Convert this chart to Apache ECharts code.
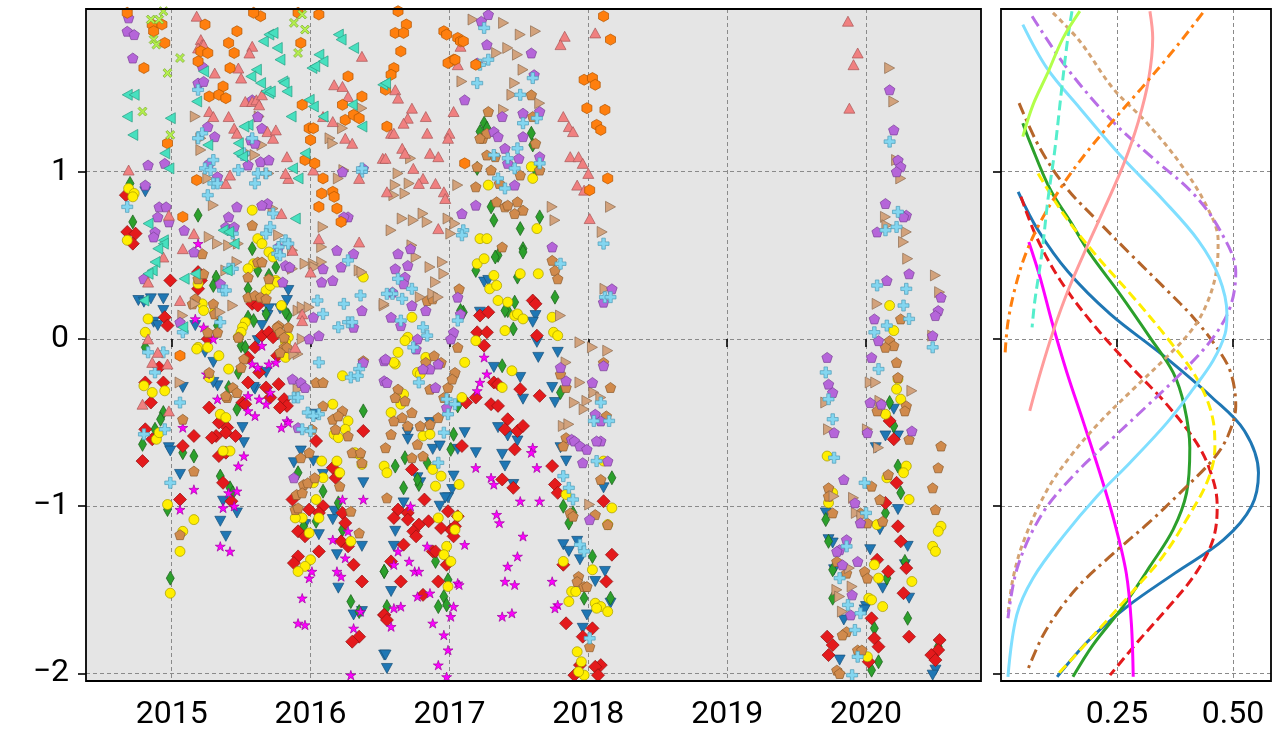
<!DOCTYPE html>
<html><head><meta charset="utf-8">
<script src="https://cdn.jsdelivr.net/npm/echarts@6/dist/echarts.min.js"></script>
<style>html,body{margin:0;padding:0;background:#fff;}#c{width:1274px;height:735px;}</style>
</head><body><div id="c"></div>
<script>
// ---------------- tick values ----------------
const yearTicks = [2015, 2016, 2017, 2018, 2019, 2020];
const valueTicks = [-2, -1, 0, 1];
const densityTicks = [0.25, 0.5];

// ---------------- scatter series: [year, value] ----------------
const blueTri = [[2014.81,0.88],[2014.76,0.23],[2014.85,0.24],[2014.94,0.24],[2014.94,0.17],[2014.80,0.22],[2014.87,0.10],[2014.90,0.08],[2015.17,0.08],[2015.24,-0.08],[2015.30,-0.14],[2015.08,-0.29],[2015.33,-0.28],[2015.30,-0.26],[2015.60,-0.30],[2015.51,-0.53],[2015.52,-0.62],[2015.84,0.29],[2015.83,0.23],[2015.70,0.18],[2015.69,0.14],[2015.78,0.18],[2015.65,0.08],[2015.62,-0.01],[2015.68,-0.20],[2015.59,-0.29],[2016.04,-0.45],[2014.98,-0.65],[2014.99,-0.67],[2015.06,-0.81],[2015.35,-1.09],[2015.39,-1.18],[2015.47,-1.04],[2015.37,-0.97],[2015.88,-0.74],[2016.02,-0.73],[2015.93,-0.67],[2016.09,-0.81],[2016.17,-1.03],[2016.16,-1.08],[2016.19,-1.29],[2016.20,-1.49],[2015.96,-1.11],[2016.06,-1.17],[2016.38,-0.86],[2016.37,-1.24],[2016.31,-1.65],[2016.37,-1.63],[2016.53,-1.89],[2016.55,-1.97],[2017.25,0.34],[2017.28,0.35],[2017.22,0.16],[2017.62,0.14],[2017.60,0.10],[2017.63,-0.02],[2017.64,-0.11],[2017.78,-0.08],[2017.32,-0.17],[2017.51,-0.23],[2017.53,-0.36],[2017.74,-0.29],[2017.76,-0.38],[2016.86,-0.50],[2017.11,-0.56],[2016.70,-0.56],[2016.70,-0.60],[2017.35,-0.53],[2017.42,-0.58],[2017.49,-0.61],[2016.88,-0.66],[2016.93,-0.64],[2017.06,-0.66],[2017.19,-0.68],[2017.38,-0.69],[2017.40,-0.76],[2017.46,-0.87],[2017.80,-0.65],[2017.84,-0.73],[2016.77,-0.83],[2016.79,-0.86],[2017.03,-0.82],[2017.02,-0.90],[2016.99,-0.95],[2016.67,-0.98],[2016.97,-0.95],[2016.93,-1.00],[2016.61,-1.15],[2016.60,-1.24],[2016.58,-1.51],[2016.54,-1.89],[2017.82,-1.23],[2017.92,-1.21],[2017.86,-1.27],[2017.94,-1.32],[2018.05,-1.45],[2018.12,-1.39],[2018.16,-1.58],[2017.99,-1.65],[2017.96,-1.73],[2018.11,-0.89],[2020.20,-0.42],[2020.14,-0.58],[2020.23,-0.58],[2020.07,-0.65],[2019.71,-1.04],[2020.23,-1.02],[2020.10,-1.14],[2019.73,-1.20],[2019.76,-1.22],[2020.03,-1.26],[2020.30,-1.24],[2019.77,-1.38],[2020.28,-1.35],[2020.12,-1.49],[2020.31,-1.55],[2019.84,-1.68],[2020.00,-1.60],[2019.99,-1.62],[2019.81,-1.92],[2020.50,-1.98],[2020.48,-2.01]];

const greenThin = [[2014.70,0.93],[2014.72,0.70],[2015.19,0.74],[2015.58,0.54],[2015.62,0.41],[2015.70,0.38],[2015.75,0.43],[2015.30,0.32],[2015.32,0.37],[2015.55,0.30],[2015.84,0.14],[2015.82,0.16],[2015.55,0.13],[2015.59,0.11],[2015.68,0.15],[2015.33,0.08],[2015.50,-0.04],[2015.53,-0.05],[2014.81,-0.05],[2015.48,-0.20],[2015.41,-0.29],[2016.38,-0.43],[2014.94,-0.44],[2014.92,-0.48],[2014.88,-0.54],[2014.90,-0.58],[2014.79,-0.63],[2015.47,-0.42],[2015.16,-0.70],[2015.08,-0.68],[2015.35,-0.82],[2015.42,-0.89],[2015.44,-0.92],[2014.97,-1.02],[2014.99,-1.43],[2015.91,-0.80],[2016.09,-0.91],[2016.04,-1.09],[2015.95,-1.12],[2016.23,-1.14],[2016.29,-1.57],[2016.35,-1.63],[2016.20,-0.98],[2016.53,-1.39],[2017.25,1.29],[2017.27,1.26],[2017.22,1.24],[2017.59,1.23],[2017.60,1.16],[2017.20,1.02],[2017.30,0.79],[2017.32,0.71],[2017.51,0.66],[2017.65,0.73],[2017.53,0.54],[2017.62,1.01],[2017.35,0.50],[2017.33,0.49],[2017.19,0.41],[2017.53,0.52],[2017.49,0.37],[2017.47,0.22],[2017.42,0.17],[2017.40,0.17],[2017.10,0.16],[2017.08,0.17],[2017.76,0.25],[2017.46,0.06],[2017.38,-0.16],[2017.80,-0.32],[2017.03,-0.57],[2017.01,-0.66],[2017.06,-0.40],[2016.61,-0.76],[2016.68,-0.71],[2016.78,-0.87],[2016.77,-0.84],[2016.84,-0.74],[2016.67,-0.89],[2016.53,-1.39],[2016.90,-1.33],[2016.55,-1.60],[2016.92,-1.60],[2016.96,-1.54],[2016.98,-1.59],[2016.99,-1.44],[2017.82,-1.00],[2017.88,-1.06],[2017.86,-1.10],[2017.89,-1.04],[2018.03,-1.30],[2018.17,-0.83],[2017.97,-1.55],[2018.16,-1.55],[2020.17,-0.38],[2020.20,-0.52],[2020.23,-0.76],[2020.25,-0.92],[2020.14,-1.04],[2019.71,-1.08],[2019.73,-1.21],[2019.76,-1.38],[2019.76,-1.55],[2020.15,-1.43],[2020.28,-1.33],[2020.30,-1.67],[2020.06,-1.73],[2020.09,-1.93],[2020.04,-1.98],[2020.52,-1.84]];

const redDiamond = [[2014.67,0.86],[2014.68,0.64],[2014.74,0.63],[2014.72,0.57],[2014.99,0.35],[2015.19,0.40],[2015.19,0.30],[2015.21,0.35],[2014.95,0.13],[2014.97,0.08],[2015.26,0.00],[2014.91,-0.17],[2014.81,-0.26],[2014.94,-0.26],[2014.85,-0.38],[2015.58,0.21],[2015.62,0.20],[2015.65,0.02],[2015.70,0.04],[2015.73,0.01],[2015.60,-0.05],[2015.55,-0.11],[2015.76,-0.10],[2015.63,-0.20],[2015.55,-0.26],[2015.68,-0.29],[2015.77,-0.27],[2015.71,-0.35],[2015.81,-0.36],[2015.83,-0.40],[2015.78,-0.41],[2015.51,-0.38],[2015.53,-0.39],[2015.27,-0.41],[2015.34,-0.50],[2015.32,-0.58],[2015.29,-0.59],[2015.40,-0.53],[2015.46,-0.58],[2015.39,-0.56],[2015.16,-0.58],[2015.08,-0.64],[2016.38,-0.55],[2016.04,-0.61],[2014.81,-0.54],[2014.86,-0.60],[2014.79,-0.73],[2015.06,-0.96],[2015.37,-0.86],[2015.43,-0.97],[2015.34,-0.70],[2015.39,-0.68],[2015.87,-0.96],[2015.99,-1.02],[2015.91,-1.15],[2015.96,-1.18],[2016.06,-1.27],[2015.91,-1.30],[2015.88,-1.34],[2016.16,-0.77],[2016.18,-0.83],[2016.09,-1.00],[2016.06,-1.04],[2016.23,-1.04],[2016.25,-1.10],[2016.22,-1.21],[2016.27,-1.24],[2016.31,-1.35],[2016.37,-1.45],[2016.35,-1.78],[2016.30,-1.81],[2016.53,-1.65],[2017.20,0.04],[2017.27,0.04],[2017.25,-0.04],[2017.22,0.14],[2017.28,0.16],[2017.60,0.23],[2017.62,0.21],[2017.63,0.02],[2017.32,-0.26],[2017.35,-0.27],[2017.51,-0.30],[2017.65,-0.34],[2017.30,-0.39],[2017.35,-0.40],[2017.19,-0.35],[2017.12,-0.38],[2017.42,-0.48],[2017.40,-0.54],[2017.49,-0.55],[2017.53,-0.52],[2017.47,-0.66],[2017.09,-0.64],[2017.38,-0.84],[2017.46,-0.89],[2017.74,-0.76],[2017.76,-0.87],[2017.78,-0.92],[2018.11,-0.97],[2016.73,-0.78],[2016.82,-0.96],[2016.63,-1.02],[2016.70,-1.04],[2016.60,-1.07],[2016.70,-1.08],[2016.99,-1.03],[2017.06,-1.06],[2017.01,-1.14],[2017.04,-1.12],[2017.03,-1.18],[2016.94,-1.13],[2016.85,-1.09],[2016.78,-1.11],[2016.74,-1.15],[2016.76,-1.18],[2016.67,-1.23],[2016.88,-1.27],[2016.90,-1.27],[2016.58,-1.33],[2016.98,-1.35],[2016.65,-1.45],[2016.92,-1.45],[2016.81,-1.53],[2016.53,-1.65],[2016.55,-1.68],[2017.82,-1.35],[2018.17,-1.29],[2018.13,-1.45],[2017.84,-1.70],[2017.96,-1.78],[2018.03,-1.73],[2017.94,-1.95],[2017.90,-2.01],[2018.09,-1.95],[2018.05,-1.96],[2018.07,-2.01],[2020.17,-0.49],[2020.20,-0.60],[2020.22,-0.86],[2020.14,-0.98],[2020.23,-1.12],[2020.25,-1.21],[2020.29,-1.37],[2020.08,-1.32],[2020.16,-1.39],[2020.27,-1.52],[2020.04,-1.67],[2020.06,-1.79],[2020.09,-1.84],[2020.02,-1.93],[2019.72,-1.78],[2019.76,-1.83],[2019.73,-1.89],[2020.31,-1.78],[2020.53,-1.80],[2020.52,-1.86],[2020.47,-1.89],[2020.50,-1.92]];

const yellowCircle = [[2014.69,0.90],[2014.73,0.87],[2014.72,0.85],[2014.68,0.59],[2014.83,0.12],[2014.81,0.04],[2015.19,-0.05],[2015.26,-0.05],[2015.34,-0.10],[2015.19,0.33],[2015.22,0.21],[2015.23,0.17],[2015.31,0.16],[2015.58,0.77],[2015.62,0.60],[2015.65,0.57],[2015.70,0.52],[2015.73,0.49],[2015.59,0.45],[2015.55,0.42],[2015.68,0.29],[2015.71,0.32],[2015.75,0.35],[2015.76,0.34],[2015.79,0.20],[2015.53,0.10],[2015.51,0.07],[2015.50,0.04],[2015.48,0.01],[2015.84,0.01],[2015.82,-0.02],[2015.82,-0.11],[2015.41,-0.18],[2015.27,-0.23],[2015.18,-0.06],[2016.38,0.37],[2016.23,-0.22],[2016.16,-0.39],[2016.27,-0.49],[2016.25,-0.54],[2016.17,-0.57],[2016.20,-0.59],[2015.35,-0.45],[2015.39,-0.47],[2014.80,-0.28],[2014.86,-0.32],[2014.89,-0.60],[2014.91,-0.56],[2014.95,-0.31],[2014.97,-0.99],[2015.16,-1.08],[2015.08,-1.15],[2015.06,-1.27],[2014.99,-1.52],[2015.42,-0.67],[2015.37,-0.67],[2016.08,-0.73],[2016.19,-0.73],[2016.21,-0.80],[2016.09,-0.83],[2016.37,-0.75],[2016.35,-0.69],[2016.32,-0.68],[2016.02,-0.86],[2016.04,-0.96],[2016.06,-1.07],[2015.94,-1.07],[2015.89,-1.07],[2015.99,-1.16],[2016.29,-1.21],[2016.00,-1.32],[2015.96,-1.36],[2015.91,-1.39],[2017.59,1.03],[2017.60,0.96],[2017.28,0.92],[2017.63,0.66],[2017.22,0.60],[2017.27,0.60],[2017.20,0.45],[2017.25,0.48],[2017.32,0.38],[2017.29,0.30],[2017.34,0.32],[2017.64,0.39],[2017.51,0.39],[2017.35,0.23],[2017.42,0.22],[2017.47,0.14],[2017.49,0.15],[2017.53,0.12],[2017.74,0.13],[2017.40,0.05],[2017.19,-0.01],[2017.75,0.04],[2017.78,0.02],[2017.45,-0.19],[2017.38,-0.29],[2016.73,0.13],[2016.63,-0.08],[2016.70,0.01],[2016.68,-0.01],[2016.83,-0.11],[2016.77,-0.20],[2016.79,-0.21],[2016.61,-0.15],[2016.60,-0.14],[2016.67,-0.33],[2016.65,-0.39],[2016.58,-0.44],[2017.11,-0.14],[2017.09,-0.35],[2016.53,-0.76],[2016.55,-0.80],[2016.81,-0.58],[2016.86,-0.57],[2016.88,-0.78],[2016.94,-0.82],[2016.90,-0.88],[2017.07,-0.87],[2016.92,-1.07],[2017.06,-1.06],[2017.04,-1.14],[2016.98,-1.24],[2016.96,-1.29],[2017.01,-1.33],[2016.99,-1.48],[2017.84,-0.93],[2017.82,-1.33],[2017.86,-1.57],[2017.88,-1.51],[2017.91,-1.51],[2018.03,-1.38],[2018.11,-0.73],[2018.17,-1.01],[2018.14,-1.11],[2018.05,-1.58],[2018.09,-1.60],[2018.14,-1.63],[2018.06,-1.61],[2017.92,-1.87],[2017.95,-1.93],[2017.97,-2.01],[2017.93,-1.99],[2020.17,0.20],[2020.20,0.05],[2020.23,-0.24],[2020.22,-0.30],[2020.25,-0.36],[2020.14,-0.45],[2020.29,-0.76],[2020.27,-0.80],[2020.31,-0.96],[2020.15,-0.83],[2019.72,-0.70],[2019.73,-0.98],[2019.76,-0.92],[2020.08,-1.11],[2020.06,-1.35],[2020.09,-1.43],[2020.33,-1.45],[2020.02,-1.55],[2020.04,-1.56],[2020.12,-1.60],[2020.54,-1.12],[2020.52,-1.15],[2020.48,-1.24],[2020.50,-1.27],[2020.01,-1.90]];

const magentaStar = [[2015.19,0.57],[2015.17,0.12],[2015.23,0.07],[2015.30,0.00],[2015.25,-0.21],[2015.65,-0.04],[2015.58,-0.15],[2015.62,-0.17],[2015.70,-0.15],[2015.75,-0.14],[2015.33,-0.36],[2015.55,-0.34],[2015.63,-0.36],[2015.68,-0.39],[2015.71,-0.32],[2015.55,-0.43],[2015.60,-0.46],[2015.79,-0.53],[2015.83,-0.49],[2015.84,-0.50],[2015.08,-0.53],[2015.16,-0.90],[2015.06,-1.02],[2015.48,-0.76],[2015.52,-0.70],[2015.41,-0.92],[2015.47,-0.91],[2015.37,-1.01],[2015.45,-1.00],[2015.35,-1.24],[2015.42,-1.27],[2016.23,-0.96],[2016.38,-0.96],[2016.27,-1.15],[2016.16,-1.20],[2016.25,-1.31],[2016.19,-1.39],[2016.22,-1.42],[2015.94,-1.55],[2015.91,-1.70],[2015.96,-1.71],[2016.36,-1.63],[2016.31,-1.73],[2015.99,-1.43],[2016.01,-1.39],[2016.29,-2.01],[2017.25,-0.11],[2017.27,-0.21],[2017.22,-0.26],[2017.20,-0.31],[2017.19,-0.77],[2017.30,-0.83],[2017.32,-0.87],[2017.60,-0.65],[2017.59,-0.68],[2017.63,-0.77],[2017.51,-0.97],[2017.65,-0.97],[2017.34,-1.05],[2017.36,-1.10],[2017.53,-1.18],[2017.49,-1.30],[2017.42,-1.36],[2017.40,-1.45],[2017.47,-1.47],[2017.74,-1.45],[2017.78,-1.59],[2017.76,-1.61],[2017.38,-1.66],[2017.45,-1.64],[2017.11,-1.23],[2017.06,-1.46],[2017.07,-1.47],[2017.03,-1.60],[2017.01,-1.66],[2016.96,-1.77],[2016.99,-1.86],[2016.92,-1.95],[2016.98,-2.02],[2016.88,-1.70],[2016.86,-1.52],[2016.77,-1.54],[2016.75,-1.39],[2016.78,-1.39],[2016.84,-1.24],[2016.63,-1.27],[2016.60,-1.35],[2016.65,-1.60],[2016.60,-1.61],[2016.58,-1.72],[2016.71,-1.33],[2016.72,-1.00]];

const peruPentagon = [[2015.22,0.51],[2015.19,0.36],[2015.23,0.39],[2015.17,0.24],[2015.15,0.21],[2015.30,0.21],[2015.31,0.15],[2015.27,-0.20],[2015.33,0.04],[2015.26,0.04],[2015.58,0.68],[2015.62,0.46],[2015.65,0.46],[2015.55,0.37],[2015.70,0.36],[2015.55,0.25],[2015.60,0.26],[2015.64,0.25],[2015.68,0.24],[2015.77,0.08],[2015.76,0.07],[2015.84,0.07],[2015.78,0.04],[2015.81,0.01],[2015.81,-0.05],[2015.83,-0.05],[2015.78,-0.08],[2015.48,0.01],[2015.52,-0.12],[2015.50,-0.17],[2015.44,-0.29],[2015.47,-0.32],[2015.40,-0.35],[2015.39,-0.34],[2015.08,-0.48],[2016.04,-0.26],[2016.09,-0.26],[2016.09,-0.40],[2016.16,-0.48],[2016.23,-0.43],[2016.20,-0.46],[2016.27,-0.58],[2016.18,-0.54],[2016.01,-0.54],[2016.38,-0.13],[2015.16,-0.79],[2015.06,-1.17],[2015.93,-0.71],[2015.99,-0.68],[2015.95,-0.87],[2015.90,-0.93],[2015.89,-1.02],[2015.94,-0.92],[2015.98,-0.86],[2016.03,-0.83],[2015.91,-1.01],[2016.29,-1.03],[2016.35,-1.16],[2016.30,-0.68],[2016.36,-0.68],[2016.37,-0.74],[2016.21,-0.88],[2017.28,1.36],[2017.24,1.20],[2017.27,1.23],[2017.22,1.20],[2017.62,1.17],[2017.27,1.10],[2017.33,1.09],[2017.20,1.03],[2017.30,1.01],[2017.36,0.93],[2017.51,0.98],[2017.65,1.01],[2017.19,0.91],[2017.34,0.82],[2017.40,0.79],[2017.42,0.80],[2017.49,0.82],[2017.53,0.77],[2017.47,0.75],[2017.38,0.55],[2017.60,1.33],[2017.59,1.46],[2017.07,0.30],[2017.06,-0.05],[2017.04,-0.20],[2016.99,-0.29],[2017.02,-0.24],[2016.96,-0.35],[2016.92,-0.47],[2016.86,-0.51],[2016.81,-0.70],[2016.77,-0.63],[2016.73,-0.44],[2016.70,-0.52],[2016.84,0.23],[2016.88,0.24],[2016.83,-0.14],[2016.94,-0.14],[2016.89,-0.10],[2016.86,-0.30],[2016.79,-0.52],[2016.66,-0.47],[2016.63,-0.30],[2016.61,-0.35],[2016.68,-0.37],[2016.60,-0.49],[2016.54,-0.65],[2016.55,-0.95],[2016.58,-0.57],[2016.73,-0.71],[2017.74,0.47],[2017.76,0.41],[2017.78,0.36],[2017.80,-0.21],[2017.84,-0.29],[2017.84,-0.59],[2017.82,-0.64],[2017.87,-1.04],[2017.89,-1.06],[2017.93,-1.42],[2017.92,-1.45],[2017.97,-1.48],[2017.99,-1.48],[2018.01,-1.84],[2018.11,-0.14],[2018.16,-0.29],[2018.13,-0.46],[2018.09,-0.84],[2018.05,-1.05],[2018.14,-1.11],[2020.25,0.12],[2020.17,-0.01],[2020.20,-0.04],[2020.14,-0.05],[2020.22,-0.14],[2020.23,-0.23],[2020.29,-0.40],[2020.28,-0.43],[2020.08,-0.43],[2020.12,-1.09],[2020.01,-1.10],[2020.31,-0.60],[2020.16,-0.81],[2020.04,-0.88],[2020.54,-0.64],[2020.52,-0.77],[2020.48,-0.89],[2020.50,-1.02],[2019.73,-0.89],[2019.73,-0.94],[2019.76,-1.04],[2020.10,-0.96],[2019.96,-1.04],[2019.79,-1.33],[2019.86,-1.40],[2019.99,-1.39],[2020.01,-1.43],[2019.86,-1.75],[2019.83,-1.77],[2019.94,-1.86],[2019.97,-1.86],[2019.79,-1.98],[2019.81,-2.00]];

const tanRight = [[2015.17,1.33],[2015.21,1.20],[2015.21,1.13],[2015.26,0.96],[2015.63,1.33],[2015.65,1.16],[2015.55,1.11],[2015.60,1.10],[2015.70,0.99],[2016.14,1.20],[2016.16,1.17],[2016.23,1.26],[2016.24,1.01],[2016.37,1.38],[2016.20,0.96],[2015.30,0.80],[2015.27,0.61],[2015.33,0.57],[2015.41,0.56],[2015.48,0.57],[2015.39,0.41],[2015.47,0.46],[2015.44,0.20],[2015.08,0.14],[2015.06,-0.26],[2015.17,0.21],[2015.35,0.16],[2015.73,0.78],[2015.77,0.62],[2015.87,0.53],[2015.87,0.42],[2015.96,0.45],[2015.91,0.17],[2015.94,0.19],[2015.99,0.19],[2016.09,0.67],[2016.08,0.55],[2016.08,0.46],[2016.02,0.45],[2016.03,0.43],[2016.27,0.72],[2016.35,0.41],[2016.37,0.40],[2016.53,0.20],[2015.91,-0.30],[2015.91,-0.09],[2015.94,0.00],[2015.88,-0.09],[2017.17,1.91],[2017.39,1.89],[2017.51,1.82],[2017.62,1.84],[2017.34,1.71],[2017.42,1.74],[2017.49,1.70],[2017.53,1.61],[2017.47,1.53],[2017.45,1.46],[2017.65,1.41],[2017.39,1.37],[2016.72,1.08],[2016.63,0.99],[2017.09,1.54],[2016.61,0.92],[2016.60,0.86],[2016.71,0.93],[2016.68,0.87],[2016.81,0.75],[2016.74,0.71],[2016.84,0.70],[2016.66,0.72],[2016.58,0.65],[2016.99,0.72],[2017.01,0.63],[2017.04,0.69],[2017.74,0.79],[2017.76,0.71],[2018.16,0.79],[2018.10,0.64],[2017.06,0.92],[2016.73,0.56],[2016.76,0.49],[2016.95,0.46],[2016.96,0.39],[2016.90,0.34],[2016.86,0.43],[2016.79,0.25],[2016.88,0.27],[2016.92,0.25],[2016.53,0.21],[2017.80,0.14],[2017.94,-0.02],[2018.03,-0.05],[2018.14,-0.07],[2017.84,-0.14],[2017.94,-0.26],[2017.99,-0.37],[2017.90,-0.38],[2017.97,-0.42],[2018.04,-0.32],[2018.09,-0.35],[2017.82,-0.52],[2017.86,-0.51],[2018.01,-0.99],[2018.12,0.30],[2020.17,1.62],[2020.20,1.42],[2020.22,1.07],[2020.25,0.96],[2020.14,0.73],[2020.15,0.68],[2020.29,0.64],[2020.27,0.58],[2020.30,0.48],[2020.50,0.38],[2020.53,0.28],[2020.08,0.21],[2020.48,0.02],[2019.71,-0.38],[2019.73,-0.54],[2020.01,-0.54],[2020.03,-0.26],[2020.07,-0.26],[2020.33,-0.31],[2020.10,-0.37],[2020.09,-0.65],[2019.91,-0.95],[2019.77,-0.94],[2019.93,-1.04],[2019.88,-1.37],[2019.90,-1.48],[2019.79,-1.50],[2019.81,-1.54],[2019.83,-1.63],[2019.97,-1.06]];

const purplePentagon = [[2014.69,1.92],[2014.68,1.84],[2014.73,1.82],[2014.72,1.68],[2015.22,1.63],[2015.19,1.53],[2015.23,1.54],[2015.26,1.27],[2015.31,1.21],[2015.62,1.33],[2015.58,1.43],[2015.65,1.26],[2015.57,1.19],[2015.60,1.17],[2015.64,1.06],[2015.70,1.07],[2015.55,1.04],[2015.27,1.05],[2014.83,1.04],[2014.95,1.05],[2014.81,0.92],[2016.38,1.02],[2016.23,1.00],[2015.33,0.97],[2014.91,0.79],[2014.96,0.79],[2014.90,0.73],[2014.88,0.64],[2014.87,0.61],[2014.98,0.70],[2015.09,0.65],[2015.16,0.52],[2014.80,0.36],[2015.06,0.10],[2015.35,0.33],[2015.41,0.73],[2015.39,0.67],[2015.45,0.67],[2015.47,0.79],[2015.82,0.44],[2015.85,0.43],[2015.77,0.55],[2015.80,0.34],[2015.69,0.81],[2015.65,0.80],[2016.09,0.42],[2016.08,0.34],[2016.16,0.35],[2016.22,0.43],[2016.27,0.73],[2016.24,0.73],[2016.19,0.53],[2016.31,0.51],[2016.31,0.07],[2016.37,0.17],[2015.87,-0.24],[2015.93,-0.26],[2015.96,-0.29],[2015.91,-0.53],[2016.02,0.13],[2016.06,0.02],[2015.99,0.00],[2016.38,-0.14],[2016.53,-0.13],[2016.53,-0.25],[2015.88,-0.83],[2017.28,1.94],[2017.23,1.90],[2017.27,1.76],[2017.20,1.65],[2017.59,1.71],[2017.61,1.58],[2017.11,1.43],[2017.65,1.36],[2017.53,1.35],[2017.38,1.33],[2017.32,1.24],[2017.35,1.21],[2017.53,1.21],[2017.40,1.14],[2017.50,1.08],[2017.42,1.05],[2017.65,1.09],[2017.47,0.92],[2017.19,0.80],[2017.09,0.75],[2017.74,0.55],[2016.72,0.54],[2016.63,0.51],[2016.61,0.42],[2016.70,0.44],[2016.68,0.37],[2016.67,0.33],[2016.59,0.28],[2016.73,0.20],[2016.83,0.17],[2016.58,0.13],[2016.65,0.08],[2016.54,-0.12],[2016.55,-0.26],[2016.86,-0.18],[2016.81,-0.18],[2016.92,-0.15],[2016.77,0.00],[2016.76,-0.06],[2017.06,0.25],[2017.03,0.04],[2017.01,0.00],[2017.08,0.15],[2016.90,-0.29],[2016.98,-0.41],[2017.80,-0.17],[2017.84,-0.25],[2017.88,-0.60],[2017.90,-0.61],[2017.94,-0.64],[2017.99,-0.66],[2017.96,-0.74],[2018.09,-0.61],[2018.14,-0.73],[2018.06,-0.61],[2018.01,-1.08],[2018.05,-0.45],[2018.09,-0.49],[2018.11,-0.16],[2018.17,0.30],[2018.11,0.22],[2018.03,-0.26],[2020.17,1.49],[2020.20,1.25],[2020.23,1.07],[2020.25,1.03],[2020.22,1.00],[2020.14,0.81],[2020.29,0.74],[2020.27,0.73],[2020.08,0.64],[2020.15,0.35],[2020.31,0.39],[2020.54,0.25],[2020.52,0.17],[2020.50,0.14],[2020.06,0.12],[2020.09,-0.01],[2020.48,0.02],[2019.72,-0.11],[2020.04,-0.11],[2019.73,-0.27],[2019.76,-0.32],[2019.77,-0.56],[2020.03,-0.38],[2020.11,-0.39],[2020.01,-0.56],[2020.33,-0.55],[2019.84,-0.84],[2019.92,-0.98],[2019.96,-1.10],[2019.86,-1.20],[2019.81,-1.26],[2019.79,-1.27],[2019.94,-1.33],[2019.83,-1.35],[2019.90,-1.53],[2019.89,-1.65]];

const lightBluePlus = [[2015.19,1.49],[2015.22,1.23],[2015.19,1.20],[2015.30,1.07],[2015.24,1.02],[2015.28,1.01],[2015.51,1.10],[2015.52,1.11],[2015.58,1.20],[2015.48,1.01],[2015.62,0.99],[2015.60,0.93],[2015.68,0.99],[2015.30,0.93],[2015.33,0.93],[2015.26,0.86],[2016.37,1.00],[2016.37,1.02],[2014.68,0.79],[2014.83,-0.08],[2014.94,-0.08],[2014.88,-0.20],[2014.95,-0.54],[2014.80,-0.57],[2015.06,-0.38],[2015.08,0.04],[2015.37,0.29],[2015.44,0.63],[2015.35,0.10],[2015.39,0.29],[2015.68,0.63],[2015.71,0.67],[2015.73,0.75],[2015.77,0.55],[2015.82,0.59],[2015.84,0.57],[2015.76,0.51],[2015.41,0.42],[2015.44,0.42],[2015.78,0.50],[2016.05,0.23],[2016.09,0.15],[2016.20,0.07],[2016.27,0.10],[2016.24,0.21],[2016.27,0.47],[2016.36,0.26],[2016.30,0.10],[2016.35,-0.18],[2016.29,-0.23],[2016.34,-0.22],[2016.06,-0.14],[2016.06,-0.45],[2015.88,-0.35],[2015.91,-0.35],[2015.98,-0.44],[2016.02,-0.46],[2015.94,-0.54],[2016.00,-0.55],[2014.99,-0.86],[2017.25,1.86],[2017.28,1.67],[2017.20,1.53],[2017.51,1.46],[2017.60,1.56],[2017.53,1.29],[2017.49,1.14],[2017.42,1.08],[2017.47,1.02],[2017.35,0.96],[2017.40,0.90],[2017.65,1.05],[2017.63,1.32],[2017.10,0.65],[2017.09,0.62],[2018.11,0.57],[2017.32,1.10],[2017.22,1.64],[2016.63,0.36],[2016.73,0.30],[2016.66,0.24],[2016.59,0.27],[2016.55,0.27],[2016.65,0.11],[2016.74,-0.05],[2016.78,-0.26],[2016.81,0.07],[2016.84,0.02],[2016.98,-0.36],[2016.99,-0.45],[2016.96,-0.56],[2016.92,-0.74],[2017.04,-0.39],[2017.06,0.11],[2017.82,-0.82],[2017.86,-0.89],[2017.89,-0.96],[2017.94,-1.23],[2017.97,-1.27],[2018.01,-1.79],[2018.12,0.25],[2018.16,0.25],[2018.09,-0.38],[2018.04,-0.49],[2018.15,-0.49],[2018.06,-0.73],[2017.80,0.45],[2020.17,1.18],[2020.23,0.76],[2020.22,0.67],[2020.14,0.65],[2020.08,0.32],[2020.29,0.30],[2020.27,0.20],[2020.31,0.12],[2020.15,0.08],[2020.06,0.04],[2020.48,-0.05],[2019.71,-0.20],[2019.73,-0.36],[2019.76,-0.48],[2019.77,-0.71],[2020.09,-0.18],[2020.00,-1.04],[2019.99,-0.86],[2019.86,-1.24],[2019.81,-1.43],[2019.87,-1.59],[2019.96,-1.64],[2019.92,-1.74],[2019.94,-1.90],[2019.90,-2.01]];

const pinkUp = [[2015.18,1.93],[2015.21,1.79],[2015.22,1.76],[2015.19,1.74],[2015.23,1.76],[2015.31,1.59],[2015.48,1.62],[2015.50,1.56],[2015.58,1.75],[2015.56,1.71],[2015.27,1.36],[2015.30,1.33],[2015.41,1.33],[2015.45,1.26],[2015.47,1.23],[2015.53,1.42],[2015.58,1.42],[2015.61,1.43],[2015.63,1.40],[2015.65,1.46],[2015.69,1.24],[2015.73,1.20],[2015.75,1.25],[2015.83,1.09],[2015.84,0.96],[2015.82,0.99],[2016.02,1.01],[2016.09,1.33],[2016.16,1.30],[2016.17,1.52],[2016.23,1.51],[2016.27,1.45],[2016.25,1.20],[2016.30,1.17],[2016.37,1.69],[2016.35,0.96],[2016.52,1.08],[2015.39,0.93],[2015.42,0.98],[2014.98,0.74],[2014.69,1.01],[2015.79,0.75],[2015.87,0.53],[2015.16,0.63],[2015.08,0.54],[2015.06,0.23],[2016.35,0.58],[2016.06,0.60],[2016.00,0.40],[2015.94,0.15],[2015.94,0.11],[2015.89,-0.05],[2014.83,0.34],[2014.94,0.49],[2014.83,0.00],[2014.86,-0.14],[2014.90,-0.08],[2014.97,-0.15],[2014.79,-0.39],[2014.98,-0.43],[2016.61,1.49],[2016.63,1.44],[2016.73,1.38],[2016.70,1.32],[2016.67,1.29],[2016.83,1.33],[2016.58,1.23],[2016.60,1.23],[2016.84,1.23],[2017.00,1.23],[2016.99,1.20],[2017.03,1.36],[2016.66,1.14],[2016.68,1.11],[2016.86,1.11],[2016.92,1.09],[2016.74,1.02],[2016.54,1.08],[2016.81,0.96],[2016.78,0.93],[2016.90,0.93],[2016.96,0.88],[2016.97,0.84],[2016.55,0.88],[2016.92,0.66],[2017.83,1.81],[2017.80,1.76],[2018.05,1.83],[2017.82,1.33],[2017.86,1.27],[2017.89,1.24],[2017.87,1.09],[2017.93,1.09],[2017.96,1.05],[2018.00,0.99],[2017.92,0.92],[2017.97,0.89],[2018.01,0.72],[2017.06,1.64],[2017.08,1.75],[2019.87,1.90],[2019.94,1.71],[2019.91,1.64],[2019.88,1.38]];

const orangeHex = [[2014.68,1.95],[2014.86,1.88],[2014.93,1.88],[2014.87,1.84],[2014.95,1.77],[2014.80,1.62],[2014.97,1.17],[2015.24,1.88],[2015.47,1.84],[2015.41,1.77],[2015.45,1.71],[2015.21,1.72],[2015.26,1.71],[2015.19,1.66],[2015.42,1.62],[2015.37,1.51],[2015.27,1.45],[2015.34,1.46],[2015.39,1.44],[2015.94,1.40],[2015.99,1.26],[2016.02,1.26],[2016.00,1.19],[2015.96,1.07],[2016.03,1.05],[2015.93,1.77],[2015.91,1.95],[2015.64,1.93],[2015.59,1.95],[2016.27,1.57],[2016.37,1.45],[2016.23,1.40],[2016.25,1.31],[2016.31,1.34],[2016.35,1.32],[2016.09,0.96],[2016.08,0.87],[2016.16,0.88],[2016.17,0.85],[2016.06,1.94],[2015.18,0.95],[2015.08,0.73],[2015.06,-0.10],[2016.06,0.79],[2016.19,0.78],[2016.22,0.70],[2016.63,1.96],[2016.69,1.88],[2016.61,1.83],[2016.67,1.83],[2016.65,1.72],[2016.60,1.62],[2016.58,1.58],[2016.54,1.49],[2016.55,1.27],[2016.96,1.84],[2016.98,1.82],[2017.06,1.80],[2017.08,1.78],[2017.10,1.78],[2017.03,1.67],[2016.99,1.65],[2017.04,1.67],[2017.19,1.64],[2017.11,1.05],[2018.11,1.93],[2018.16,1.79],[2017.97,1.55],[2018.03,1.56],[2018.05,1.52],[2017.99,1.38],[2018.12,1.37],[2018.06,1.28],[2018.09,1.25],[2018.14,0.96],[2018.01,0.89]];

const aquaLeft = [[2014.68,1.46],[2014.73,1.46],[2014.68,1.33],[2014.72,1.22],[2014.95,1.11],[2014.98,1.02],[2014.99,1.32],[2015.18,1.42],[2015.26,1.16],[2015.23,1.60],[2015.48,1.17],[2015.55,1.28],[2015.61,1.61],[2015.57,1.57],[2015.64,1.53],[2015.68,1.48],[2015.70,1.47],[2015.71,1.48],[2015.66,1.78],[2015.70,1.82],[2015.73,1.83],[2015.76,1.74],[2015.78,1.67],[2015.80,1.54],[2015.81,1.53],[2015.83,1.48],[2015.86,1.33],[2015.87,1.02],[2015.91,0.96],[2015.96,1.11],[2015.99,1.43],[2016.02,1.39],[2016.09,1.33],[2016.06,1.70],[2016.09,1.66],[2016.01,1.62],[2016.03,1.63],[2016.20,1.82],[2016.22,1.79],[2016.31,1.74],[2016.30,1.40],[2016.37,1.27],[2016.52,1.52],[2015.52,1.27],[2015.48,1.11],[2015.51,1.09],[2014.83,0.69],[2014.94,0.59],[2014.94,0.57],[2014.90,0.54],[2014.88,0.46],[2014.86,0.41],[2014.83,0.39],[2014.80,0.23],[2015.17,0.39],[2015.09,0.36],[2015.08,0.07],[2015.89,0.72],[2015.37,0.65],[2015.41,0.64],[2015.45,0.57],[2015.40,0.41],[2016.54,1.53]];

const limeCross = [[2014.94,1.96],[2014.85,1.91],[2014.91,1.91],[2014.87,1.79],[2014.89,1.76],[2014.79,1.36],[2014.97,1.59],[2014.99,1.22],[2015.06,1.68],[2015.88,1.89],[2015.96,1.85],[2015.91,1.71],[2015.94,1.94]];

// ---------------- right panel curves: [density, value] ----------------
const blueCurve = [[0.037,0.88],[0.080,0.65],[0.145,0.40],[0.235,0.15],[0.350,-0.10],[0.455,-0.35],[0.525,-0.55],[0.555,-0.80],[0.540,-1.00],[0.480,-1.20],[0.375,-1.40],[0.272,-1.60],[0.190,-1.80],[0.121,-2.02]];
const redCurve = [[0.043,0.85],[0.078,0.60],[0.128,0.35],[0.195,0.10],[0.275,-0.15],[0.360,-0.40],[0.428,-0.65],[0.458,-0.85],[0.466,-1.00],[0.457,-1.20],[0.420,-1.40],[0.362,-1.60],[0.298,-1.80],[0.235,-2.01]];
const greenCurve = [[0.047,1.29],[0.062,1.18],[0.105,0.90],[0.150,0.70],[0.192,0.51],[0.256,0.27],[0.321,0.01],[0.371,-0.20],[0.395,-0.40],[0.407,-0.65],[0.400,-0.92],[0.371,-1.14],[0.321,-1.36],[0.263,-1.60],[0.198,-1.83],[0.155,-2.02]];
const yellowCurve = [[0.080,0.99],[0.134,0.75],[0.205,0.50],[0.285,0.25],[0.360,0.00],[0.425,-0.25],[0.458,-0.50],[0.461,-0.65],[0.445,-0.85],[0.400,-1.08],[0.349,-1.30],[0.284,-1.51],[0.213,-1.73],[0.121,-2.01]];
const magentaCurve = [[0.060,0.58],[0.084,0.37],[0.110,0.10],[0.142,-0.20],[0.178,-0.50],[0.213,-0.80],[0.245,-1.10],[0.270,-1.40],[0.281,-1.70],[0.285,-2.02]];
const brownCurve = [[0.039,1.41],[0.084,1.14],[0.142,0.90],[0.207,0.71],[0.278,0.51],[0.358,0.29],[0.414,0.13],[0.465,-0.05],[0.495,-0.20],[0.506,-0.40],[0.489,-0.58],[0.457,-0.72],[0.386,-0.92],[0.318,-1.10],[0.235,-1.30],[0.160,-1.50],[0.095,-1.75],[0.056,-1.99]];
const tanCurve = [[0.112,1.95],[0.170,1.78],[0.241,1.50],[0.315,1.29],[0.386,1.05],[0.444,0.79],[0.468,0.59],[0.464,0.40],[0.442,0.20],[0.410,0.05],[0.360,-0.10],[0.285,-0.30],[0.212,-0.50],[0.150,-0.70],[0.100,-0.90],[0.050,-1.20],[0.026,-1.43],[0.015,-1.65]];
const purpleCurve = [[0.067,1.93],[0.142,1.62],[0.241,1.30],[0.328,1.08],[0.414,0.87],[0.472,0.65],[0.506,0.40],[0.494,0.19],[0.455,0.00],[0.390,-0.20],[0.315,-0.40],[0.238,-0.60],[0.162,-0.80],[0.090,-1.04],[0.036,-1.36],[0.015,-1.67]];
const lightBlueCurve = [[0.047,1.88],[0.099,1.62],[0.170,1.38],[0.263,1.08],[0.350,0.83],[0.425,0.59],[0.470,0.37],[0.487,0.15],[0.483,0.03],[0.457,-0.13],[0.414,-0.30],[0.358,-0.50],[0.278,-0.74],[0.207,-0.94],[0.134,-1.18],[0.069,-1.43],[0.034,-1.65],[0.015,-2.02]];
const pinkCurve = [[0.321,1.96],[0.327,1.80],[0.318,1.55],[0.296,1.30],[0.265,1.05],[0.226,0.80],[0.185,0.55],[0.146,0.30],[0.113,0.05],[0.085,-0.20],[0.062,-0.43]];
const orangeCurve = [[0.009,-0.08],[0.015,0.10],[0.030,0.30],[0.052,0.50],[0.085,0.70],[0.128,0.90],[0.180,1.10],[0.240,1.30],[0.303,1.50],[0.370,1.72],[0.435,1.95]];
const aquaCurve = [[0.153,1.96],[0.144,1.80],[0.131,1.50],[0.116,1.13],[0.101,0.83],[0.088,0.51],[0.073,0.23],[0.067,0.07]];
const limeCurve = [[0.170,1.96],[0.134,1.80],[0.099,1.58],[0.069,1.40],[0.047,1.21]];

// ---------------- chart ----------------
const FONT = 'Roboto';
const SYM = {
  down: 'path://M0,0L10,0L5,9Z',
  up: 'path://M5,0L10,9L0,9Z',
  left: 'path://M0,5L9,0L9,10Z',
  right: 'path://M0,0L9,5L0,10Z',
  star: 'path://M10,0L12.25,6.91L19.51,6.91L13.63,11.18L15.88,18.09L10,13.82L4.12,18.09L6.37,11.18L0.49,6.91L7.75,6.91Z',
  pent: 'path://M10,0L19.51,6.91L15.88,18.09L4.12,18.09L0.49,6.91Z',
  hex: 'path://M10,0L18.66,5L18.66,15L10,20L1.34,15L1.34,5Z',
  plus: 'path://M3.4,0L6.6,0L6.6,3.4L10,3.4L10,6.6L6.6,6.6L6.6,10L3.4,10L3.4,6.6L0,6.6L0,3.4L3.4,3.4Z',
  cross: 'path://M1.8,0L5,3.2L8.2,0L10,1.8L6.8,5L10,8.2L8.2,10L5,6.8L1.8,10L0,8.2L3.2,5L0,1.8Z'
};
function sc(data, symbol, size, color, border) {
  return { type: 'scatter', data, symbol, symbolSize: size, xAxisIndex: 0, yAxisIndex: 0,
    itemStyle: { color, borderColor: border, borderWidth: 0.7, opacity: 1 }, silent: true, z: 3 };
}
function cv(data, color, type) {
  return { type: 'line', data, xAxisIndex: 1, yAxisIndex: 1, showSymbol: false, symbol: 'none', smooth: 0.35,
    lineStyle: { color, width: 3, type: type || 'solid' }, silent: true, z: 3 };
}
const minus = v => (v < 0 ? '\u2212' + Math.abs(v) : String(v));
const gridLine = { show: true, lineStyle: { color: '#8a8a8a', width: 1, type: [4, 3] } };
const tick = (vals) => ({ show: true, customValues: vals, length: 8, lineStyle: { color: '#000', width: 1.6 } });
const lab = { fontFamily: FONT, fontSize: 32, color: '#000' };

const option = {
  animation: false,
  backgroundColor: '#fff',
  grid: [
    { left: 86, top: 9, width: 895, height: 672, show: true, backgroundColor: '#e5e5e5', borderWidth: 0 },
    { left: 1001, top: 9, width: 270, height: 672, show: true, backgroundColor: '#ffffff', borderWidth: 0 }
  ],
  xAxis: [
    { type: 'value', gridIndex: 0, min: 2014.383, max: 2020.828, axisLine: { show: false }, axisTick: tick(yearTicks),
      axisLabel: Object.assign({ customValues: yearTicks, margin: 18,
        formatter: v => (Math.abs(v - Math.round(v)) < 1e-6 ? String(Math.round(v)) : '') }, lab),
      splitLine: gridLine },
    { type: 'value', gridIndex: 1, min: 0, max: 0.582, axisLine: { show: false }, axisTick: tick(densityTicks),
      axisLabel: Object.assign({ customValues: densityTicks, margin: 18,
        formatter: v => (Math.abs(v - 0.25) < 1e-6 || Math.abs(v - 0.5) < 1e-6 ? v.toFixed(2) : '') }, lab),
      splitLine: gridLine }
  ],
  yAxis: [
    { type: 'value', gridIndex: 0, min: -2.045, max: 1.973, axisLine: { show: false }, axisTick: tick(valueTicks),
      axisLabel: Object.assign({ customValues: valueTicks, margin: 17,
        formatter: v => (Math.abs(v - Math.round(v)) < 1e-6 ? minus(Math.round(v)) : '') }, lab),
      splitLine: gridLine },
    { type: 'value', gridIndex: 1, min: -2.045, max: 1.973, axisLine: { show: false }, axisTick: tick(valueTicks),
      axisLabel: { show: false }, splitLine: gridLine }
  ],
  graphic: [
    { type: 'rect', shape: { x: 86, y: 9, width: 895, height: 672 }, style: { fill: 'none', stroke: '#000', lineWidth: 1.8 }, z: 100, silent: true },
    { type: 'rect', shape: { x: 1001, y: 9, width: 270, height: 672 }, style: { fill: 'none', stroke: '#000', lineWidth: 1.8 }, z: 100, silent: true }
  ],
  series: [
    sc(blueTri, SYM.down, [11, 10], '#1f77b4', '#174f78'),
    sc(greenThin, 'diamond', [8, 14], '#2ca02c', '#1b5e1b'),
    sc(redDiamond, 'diamond', [13, 13], '#e41a1c', '#8e1010'),
    sc(yellowCircle, 'circle', 10, '#ffee00', '#a59a00'),
    sc(magentaStar, SYM.star, [10, 9.5], '#ff00ff', '#a000a0'),
    sc(peruPentagon, SYM.pent, [10.5, 10], '#d08a4c', '#8b5a2b'),
    sc(tanRight, SYM.right, [10, 11], '#d2a27c', '#8d6b50'),
    sc(purplePentagon, SYM.pent, [10.5, 10], '#b565d9', '#7a3f96'),
    sc(lightBluePlus, SYM.plus, [11, 11], '#83d6f0', '#4d9cb8'),
    sc(pinkUp, SYM.up, [11, 10], '#f08080', '#a85656'),
    sc(orangeHex, SYM.hex, [10, 11], '#ff7f0e', '#b25500'),
    sc(aquaLeft, SYM.left, [10, 11], '#47e0bf', '#2a9c82'),
    sc(limeCross, SYM.cross, [9, 9], '#b4f04c', '#7aa830'),
    cv(blueCurve, '#1f77b4'),
    cv(redCurve, '#e41a1c', [10, 5]),
    cv(greenCurve, '#2ca02c'),
    cv(yellowCurve, '#ffee00', [10, 5]),
    cv(magentaCurve, '#ff00ff'),
    cv(brownCurve, '#b5652a', [12, 5, 3, 5]),
    cv(tanCurve, '#d4a373', [5, 4]),
    cv(purpleCurve, '#b96ee6', [12, 5, 3, 5]),
    cv(lightBlueCurve, '#80dfff'),
    cv(pinkCurve, '#ff9c9c'),
    cv(orangeCurve, '#ff7f0e', [10, 5, 3, 5]),
    cv(aquaCurve, '#55eecc', [10, 5]),
    cv(limeCurve, '#b2ff4a')
  ]
};
const chart = echarts.init(document.getElementById('c'), null, { renderer: 'canvas' });
chart.setOption(option);
</script>
</body></html>
